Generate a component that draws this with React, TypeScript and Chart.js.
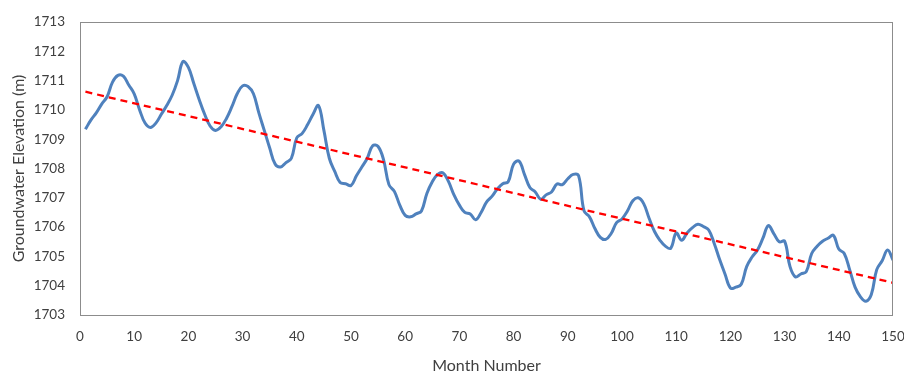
import React, { useEffect, useRef } from "react";
import { Chart, registerables } from "chart.js";

Chart.register(...registerables);

const months: number[] = Array.from({ length: 150 }, (_, i) => i + 1);

const elevation: number[] = [
  1709.34, 1709.65, 1709.9, 1710.2, 1710.45, 1710.95, 1711.18, 1711.15, 1710.85, 1710.55,
  1710.0, 1709.55, 1709.4, 1709.55, 1709.85, 1710.15, 1710.5, 1711.0, 1711.65, 1711.45,
  1710.9, 1710.35, 1709.85, 1709.45, 1709.3, 1709.42, 1709.7, 1710.1, 1710.55, 1710.82,
  1710.8, 1710.55, 1709.9, 1709.3, 1708.7, 1708.15, 1708.05, 1708.2, 1708.35, 1709.05,
  1709.2, 1709.5, 1709.85, 1710.15, 1709.3, 1708.35, 1707.9, 1707.52, 1707.48, 1707.42,
  1707.75, 1708.05, 1708.35, 1708.78, 1708.75, 1708.3, 1707.45, 1707.22, 1706.75, 1706.4,
  1706.35, 1706.45, 1706.55, 1707.15, 1707.55, 1707.8, 1707.85, 1707.55, 1707.1, 1706.75,
  1706.5, 1706.45, 1706.25, 1706.5, 1706.85, 1707.05, 1707.3, 1707.48, 1707.55, 1708.15,
  1708.25, 1707.8, 1707.35, 1707.2, 1706.95, 1707.1, 1707.2, 1707.47, 1707.45, 1707.65,
  1707.8, 1707.75, 1706.55, 1706.35, 1705.95, 1705.65, 1705.58, 1705.78, 1706.15, 1706.28,
  1706.55, 1706.9, 1707.0, 1706.8, 1706.3, 1705.85, 1705.55, 1705.35, 1705.28, 1705.8,
  1705.55, 1705.8, 1705.98, 1706.1, 1706.02, 1705.9, 1705.45, 1704.9, 1704.4, 1703.92,
  1703.95, 1704.05, 1704.65, 1704.98, 1705.22, 1705.62, 1706.05, 1705.78, 1705.5, 1705.52,
  1704.65, 1704.3, 1704.4, 1704.48, 1705.1, 1705.35, 1705.52, 1705.62, 1705.72, 1705.25,
  1705.1, 1704.55, 1703.95, 1703.62, 1703.47, 1703.7, 1704.55, 1704.85, 1705.22, 1704.88,
];

const trendMonths: number[] = [1, 150];
const trendValues: number[] = [1710.62, 1704.1];

const FONT = "Lato, 'Open Sans', sans-serif";

const plotBorder = {
  id: "plotBorder",
  afterDraw(chart: any) {
    const { ctx, chartArea } = chart;
    ctx.save();
    ctx.strokeStyle = "#8c8c8c";
    ctx.lineWidth = 1;
    ctx.strokeRect(
      Math.round(chartArea.left) + 0.5,
      Math.round(chartArea.top) + 0.5,
      Math.round(chartArea.right - chartArea.left) - 1,
      Math.round(chartArea.bottom - chartArea.top)
    );
    ctx.restore();
  },
};

export default function App() {
  const ref = useRef<HTMLCanvasElement | null>(null);

  useEffect(() => {
    document.body.style.margin = "0";
    if (!ref.current) return;
    const chart = new Chart(ref.current, {
      type: "line",
      data: {
        datasets: [
          {
            label: "Trend",
            data: trendMonths.map((m, i) => ({ x: m, y: trendValues[i] })),
            borderColor: "#ff0000",
            borderWidth: 2.3,
            borderDash: [7, 5],
            pointRadius: 0,
            tension: 0,
          },
          {
            label: "Groundwater Elevation",
            data: months.map((m, i) => ({ x: m, y: elevation[i] })),
            borderColor: "#4f81bd",
            borderWidth: 3,
            pointRadius: 0,
            tension: 0.4,
          },
        ],
      },
      options: {
        animation: false,
        responsive: false,
        maintainAspectRatio: false,
        layout: { padding: { top: 22, right: 11, left: 9, bottom: 0 } },
        plugins: { legend: { display: false }, tooltip: { enabled: false } },
        scales: {
          x: {
            type: "linear",
            min: 0,
            max: 150,
            grid: { display: false, drawTicks: false },
            border: { display: false },
            afterFit: (s: any) => {
              s.paddingRight = 0;
              s.paddingLeft = 0;
              s.height = 56;
            },
            ticks: {
              stepSize: 10,
              color: "#404040",
              font: { family: FONT, size: 13.5 },
              padding: 14,
              callback: (v: any) => String(v),
            },
            title: {
              display: true,
              text: "Month Number",
              color: "#404040",
              font: { family: FONT, size: 16, lineHeight: 0.6 },
              padding: { top: 2, bottom: 0 },
            },
          },
          y: {
            min: 1703,
            max: 1713,
            grid: { display: false, drawTicks: false },
            border: { display: false },
            afterFit: (s: any) => {
              s.paddingTop = 0;
              s.paddingBottom = 0;
              s.width = 71;
            },
            ticks: {
              stepSize: 1,
              color: "#404040",
              font: { family: FONT, size: 13.5 },
              padding: 15,
              callback: (v: any) => String(v),
            },
            title: {
              display: true,
              text: "Groundwater Elevation (m)",
              color: "#404040",
              font: { family: FONT, size: 16, lineHeight: 1.2 },
              padding: { top: 0, bottom: 2 },
            },
          },
        },
      },
      plugins: [plotBorder],
    });
    return () => chart.destroy();
  }, []);

  return (
    <div style={{ width: 904, height: 371 }}>
      <canvas ref={ref} width={904} height={371} style={{ display: "block" }} />
    </div>
  );
}
